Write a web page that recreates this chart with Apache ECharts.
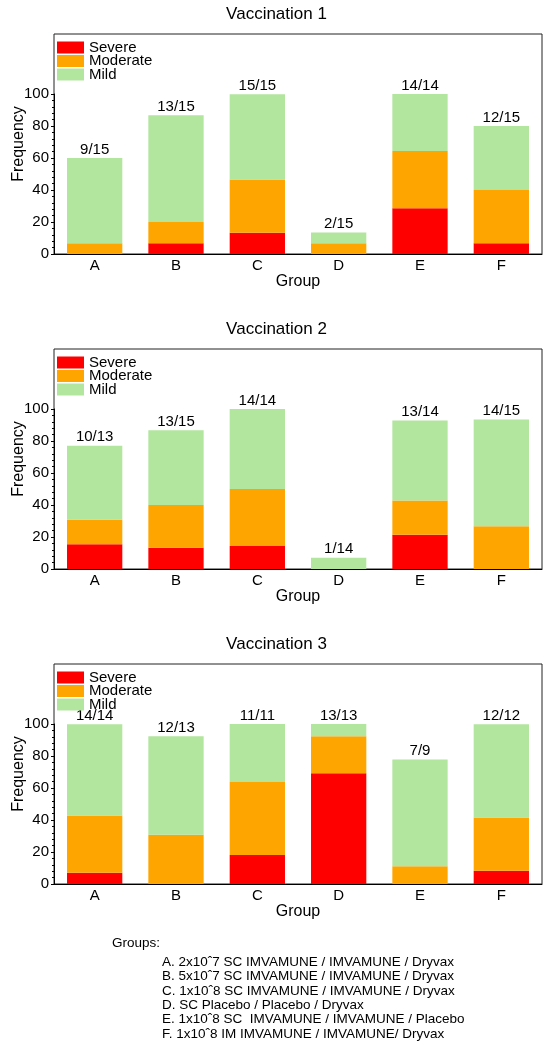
<!DOCTYPE html>
<html>
<head>
<meta charset="utf-8">
<script src="https://cdn.jsdelivr.net/npm/echarts@6/dist/echarts.min.js"></script>
<style>
html,body{margin:0;padding:0;background:#fff;}
#chart{width:553px;height:1049px;}
</style>
</head>
<body>
<div id="chart"></div>
<script>
const categories = ['A', 'B', 'C', 'D', 'E', 'F'];
const panelTitles = ['Vaccination 1', 'Vaccination 2', 'Vaccination 3'];
const seriesNames = ['Severe', 'Moderate', 'Mild'];

const severe1 = [0, 6.7, 13.3, 0, 28.6, 6.7];
const moderate1 = [6.7, 13.3, 33.3, 6.7, 35.7, 33.3];
const mild1 = [53.3, 66.7, 53.3, 6.7, 35.7, 40];
const labels1 = ['9/15', '13/15', '15/15', '2/15', '14/14', '12/15'];

const severe2 = [15.4, 13.3, 14.3, 0, 21.4, 0];
const moderate2 = [15.4, 26.7, 35.7, 0, 21.4, 26.7];
const mild2 = [46.2, 46.7, 50, 7.1, 50, 66.7];
const labels2 = ['10/13', '13/15', '14/14', '1/14', '13/14', '14/15'];

const severe3 = [7.1, 0, 18.2, 69.2, 0, 8.3];
const moderate3 = [35.7, 30.8, 45.5, 23.1, 11.1, 33.3];
const mild3 = [57.1, 61.5, 36.4, 7.7, 66.7, 58.3];
const labels3 = ['14/14', '12/13', '11/11', '13/13', '7/9', '12/12'];

const groupNotes = [
  'A. 2x10ˆ7 SC IMVAMUNE / IMVAMUNE / Dryvax',
  'B. 5x10ˆ7 SC IMVAMUNE / IMVAMUNE / Dryvax',
  'C. 1x10ˆ8 SC IMVAMUNE / IMVAMUNE / Dryvax',
  'D. SC Placebo / Placebo / Dryvax',
  'E. 1x10ˆ8 SC  IMVAMUNE / IMVAMUNE / Placebo',
  'F. 1x10ˆ8 IM IMVAMUNE / IMVAMUNE/ Dryvax'
];

const panels = [
  {severe: severe1, moderate: moderate1, mild: mild1, labels: labels1},
  {severe: severe2, moderate: moderate2, mild: mild2, labels: labels2},
  {severe: severe3, moderate: moderate3, mild: mild3, labels: labels3}
];
const colors = {Severe: '#FF0000', Moderate: '#FFA500', Mild: '#B2E59E'};
const FONT = 'Liberation Sans, Arial, sans-serif';

const PANEL_STEP = 315;
const FRAME_TOP = 34, DATA_TOP = 94, BASE = 254, LEFT = 54, RIGHT = 11;

const option = {
  animation: false,
  backgroundColor: '#fff',
  textStyle: {fontFamily: FONT, color: '#000'},
  title: [], legend: [], grid: [], xAxis: [], yAxis: [], series: [], graphic: []
};

panels.forEach((p, i) => {
  const off = i * PANEL_STEP;
  option.title.push({
    text: panelTitles[i], left: 'center', top: off + 6, padding: 0,
    textStyle: {fontFamily: FONT, fontSize: 17, fontWeight: 'normal', color: '#000'}
  });
  option.legend.push({
    orient: 'vertical', left: 57, top: off + 40, padding: 0, itemGap: -1.5,
    itemWidth: 27, itemHeight: 12, icon: 'rect', selectedMode: false,
    data: seriesNames,
    textStyle: {fontFamily: FONT, fontSize: 15, color: '#000'}
  });
  option.grid.push({
    left: LEFT, right: RIGHT, top: off + FRAME_TOP, height: BASE - FRAME_TOP,
    show: true, borderColor: '#222', borderWidth: 1, backgroundColor: 'transparent'
  });
  option.grid.push({
    left: LEFT, right: RIGHT, top: off + DATA_TOP, height: BASE - DATA_TOP
  });
  option.xAxis.push({
    gridIndex: 2 * i, type: 'value', show: false
  });
  option.yAxis.push({
    gridIndex: 2 * i, type: 'value', min: 0, max: 1,
    axisLine: {show: false}, axisTick: {show: false}, axisLabel: {show: false},
    splitLine: {show: false},
    name: 'Frequency', nameLocation: 'middle', nameGap: 27,
    nameTextStyle: {fontFamily: FONT, fontSize: 16, color: '#000'}
  });
  option.xAxis.push({
    gridIndex: 2 * i + 1, type: 'category', data: categories,
    axisLine: {lineStyle: {color: '#000', width: 1}},
    axisTick: {show: false},
    axisLabel: {fontFamily: FONT, fontSize: 15, color: '#000', margin: 4},
    name: 'Group', nameLocation: 'middle', nameGap: 16,
    nameTextStyle: {fontFamily: FONT, fontSize: 16, color: '#000'}
  });
  option.yAxis.push({
    gridIndex: 2 * i + 1, type: 'value', min: 0, max: 100, interval: 20,
    axisLine: {show: true, lineStyle: {color: '#000', width: 1}},
    axisTick: {show: true, length: 3, lineStyle: {color: '#000'}},
    minorTick: {show: true, splitNumber: 5, length: 2, lineStyle: {color: '#000'}},
    axisLabel: {fontFamily: FONT, fontSize: 15, color: '#000', margin: 5},
    splitLine: {show: false}
  });
  const vals = {Severe: p.severe, Moderate: p.moderate, Mild: p.mild};
  seriesNames.forEach(name => {
    const s = {
      name: name, type: 'bar', stack: 'panel' + i,
      xAxisIndex: 2 * i + 1, yAxisIndex: 2 * i + 1,
      barWidth: '68%', data: vals[name],
      itemStyle: {color: colors[name]}
    };
    if (name === 'Mild') {
      s.label = {
        show: true, position: 'top', distance: 1,
        fontFamily: FONT, fontSize: 15, color: '#000',
        formatter: (d) => p.labels[d.dataIndex]
      };
    }
    option.series.push(s);
  });
});

option.graphic.push({
  type: 'text', left: 112, top: 936,
  style: {text: 'Groups:', font: '13.5px ' + FONT, fill: '#000'}
});
groupNotes.forEach((t, k) => {
  option.graphic.push({
    type: 'text', left: 162, top: 955 + k * 14.4,
    style: {text: t, font: '13.5px ' + FONT, fill: '#000'}
  });
});

const chart = echarts.init(document.getElementById('chart'), null, {renderer: 'canvas'});
chart.setOption(option);
</script>
</body>
</html>
